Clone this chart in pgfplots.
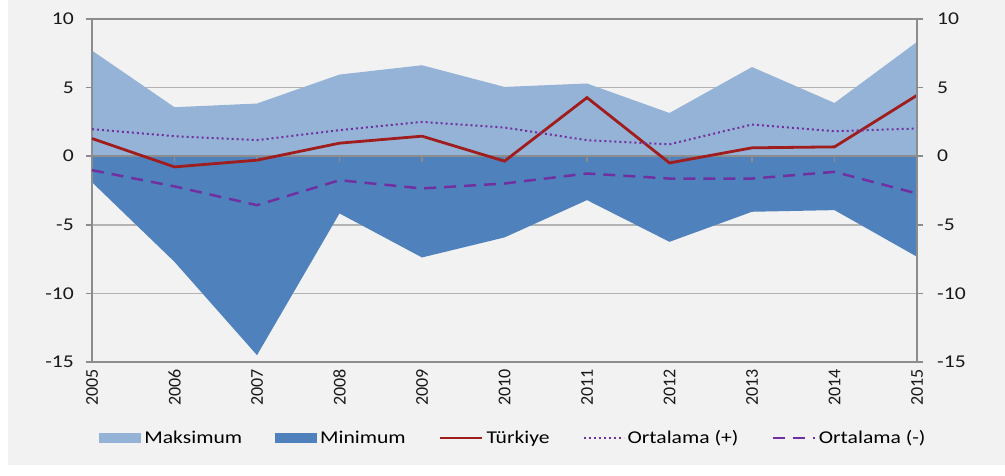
\documentclass[border=0pt]{standalone}
\usepackage{fontspec}
\setmainfont[FakeStretch=1.2]{Carlito}
\newfontfamily\rotfont{Carlito}
\usepackage{pgfplots}
\pgfplotsset{compat=1.18}
\definecolor{bg}{HTML}{F2F2F2}
\definecolor{lb}{HTML}{95B3D7}
\definecolor{db}{HTML}{4F81BD}
\definecolor{tr}{HTML}{A01D1D}
\definecolor{pu}{HTML}{7030A0}
\definecolor{gridc}{HTML}{B3B3B3}
\definecolor{axc}{HTML}{8C8C8C}
\begin{document}
\begin{tikzpicture}
\fill[white] (-92pt,-113pt) rectangle (913pt,362pt);
\fill[bg] (-84pt,-103pt) rectangle (913pt,362pt);
\begin{axis}[
  at={(0,0)}, anchor=south west,
  scale only axis, width=825pt, height=343pt,
  xmin=2005, xmax=2015, ymin=-15, ymax=10,
  axis line style={axc, line width=1.5pt},
  xtick={2005,2006,...,2015},
  ytick={-15,-10,...,10},
  ymajorgrids, grid style={gridc, line width=1.5pt},
  ytick pos=left, xtick pos=bottom,
  tick align=outside,
  ytick style={axc, line width=1.5pt},
  xtick style={draw=none},
  major tick length=6pt,
  /pgf/number format/assume math mode=true,
  /pgf/number format/1000 sep={},
  yticklabel style={font=\fontsize{18}{18}\selectfont, text=black!90, inner sep=1pt, xshift=-11pt},
  xticklabel style={font=\rotfont\fontsize{18}{18}\selectfont, text=black!90, rotate=90, anchor=east, inner sep=1pt},
  legend columns=5,
  legend style={at={(0.5115,-0.2216)}, anchor=center, draw=none, fill=none,
    font=\fontsize{18}{20}\selectfont, inner sep=0pt,
    nodes={inner sep=3pt},
    /tikz/every even column/.append style={column sep=30pt}},
  legend cell align=left,
]
\addplot[fill=lb, draw=none, legend image code/.code={\fill[lb] (0pt,-5pt) rectangle (42pt,5pt);}] coordinates {
 (2005,0) (2005,7.7) (2006,3.57) (2007,3.84) (2008,5.95) (2009,6.63) (2010,5.05)
 (2011,5.3) (2012,3.15) (2013,6.5) (2014,3.88) (2015,8.33) (2015,0)} \closedcycle;
\addlegendentry{Maksimum}
\addplot[fill=db, draw=none, legend image code/.code={\fill[db] (0pt,-5pt) rectangle (42pt,5pt);}] coordinates {
 (2005,0) (2005,-1.9) (2006,-7.7) (2007,-14.5) (2008,-4.17) (2009,-7.38) (2010,-5.92)
 (2011,-3.2) (2012,-6.24) (2013,-4.05) (2014,-3.93) (2015,-7.33) (2015,0)} \closedcycle;
\addlegendentry{Minimum}
\draw[axc, line width=1.5pt] (axis cs:2005,0) -- (axis cs:2015,0);
\draw[axc, line width=1.5pt] (axis cs:2005,-15) -- (axis cs:2005,10) -- (axis cs:2015,10) -- (axis cs:2015,-15);
\pgfplotsinvokeforeach{2006,...,2014}{\draw[axc, line width=1.5pt] (axis cs:#1,0) -- ++(0pt,-6pt);}
\addplot[tr, line width=2.8pt, mark=none, legend image code/.code={\draw[tr, line width=2.8pt] (0pt,0pt) -- (42pt,0pt);}] coordinates {
 (2005,1.29) (2006,-0.78) (2007,-0.29) (2008,0.95) (2009,1.46) (2010,-0.36)
 (2011,4.27) (2012,-0.49) (2013,0.61) (2014,0.68) (2015,4.44)};
\addlegendentry{Türkiye}
\addplot[pu, line width=2pt, mark=none, dash pattern=on 2pt off 3pt, legend image code/.code={\draw[pu, line width=2pt, dash pattern=on 2pt off 3pt] (0pt,0pt) -- (40pt,0pt);}] coordinates {
 (2005,1.97) (2006,1.46) (2007,1.17) (2008,1.9) (2009,2.5) (2010,2.09)
 (2011,1.17) (2012,0.87) (2013,2.31) (2014,1.82) (2015,2.02)};
\addlegendentry{Ortalama (+)}
\addplot[pu, line width=2.5pt, mark=none, dash pattern=on 12pt off 8pt, legend image code/.code={\draw[pu, line width=2.5pt, dash pattern=on 12pt off 8pt] (0pt,0pt) -- (42pt,0pt);}] coordinates {
 (2005,-1.02) (2006,-2.2) (2007,-3.57) (2008,-1.75) (2009,-2.35) (2010,-1.99)
 (2011,-1.26) (2012,-1.63) (2013,-1.63) (2014,-1.14) (2015,-2.72)};
\addlegendentry{Ortalama (-)}
\end{axis}
\begin{axis}[
  at={(0,0)}, anchor=south west,
  scale only axis, width=825pt, height=343pt,
  xmin=2005, xmax=2015, ymin=-15, ymax=10,
  axis y line*=right, axis x line=none,
  axis line style={axc, line width=1.5pt},
  ytick={-15,-10,...,10},
  tick align=outside,
  ytick style={axc, line width=1.5pt},
  major tick length=6pt,
  /pgf/number format/assume math mode=true,
  yticklabel style={font=\fontsize{18}{18}\selectfont, text=black!90, inner sep=1pt, xshift=13pt},
]
\addplot[draw=none] coordinates {(2005,0) (2015,0)};
\end{axis}
\useasboundingbox (-92pt,-113pt) rectangle (913pt,362pt);
\end{tikzpicture}
\end{document}
